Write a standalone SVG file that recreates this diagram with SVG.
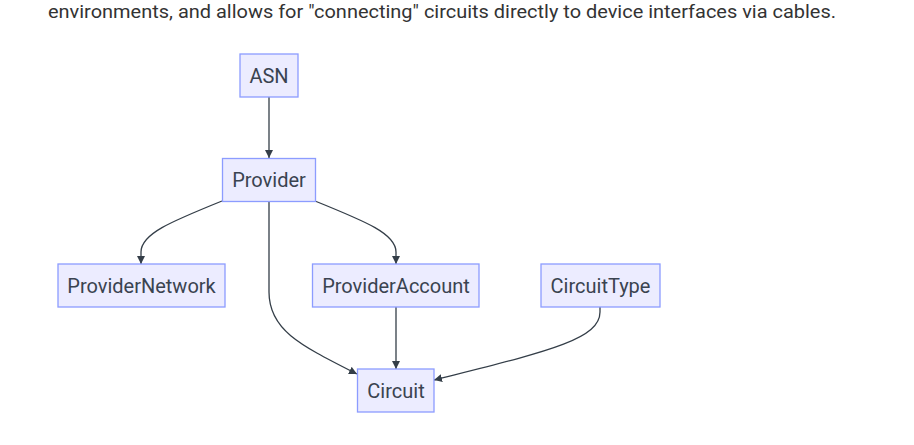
<svg xmlns="http://www.w3.org/2000/svg" width="914" height="445" viewBox="0 0 914 445">
<defs>
<style>
.node rect{fill:#ECECFF;stroke:#8C9CFF;stroke-width:1.3}
.node text{font-family:Roboto,"Liberation Sans",sans-serif;font-size:20px;fill:#3a4350;text-anchor:middle}
.edge{fill:none;stroke:#343e48;stroke-width:1.3}
.intro{font-family:Roboto,"Liberation Sans",sans-serif;font-size:19px;fill:#333}
</style>
<marker id="arr" viewBox="0 0 10 10" refX="10" refY="5" markerWidth="8" markerHeight="8" markerUnits="userSpaceOnUse" orient="auto">
<path d="M0,0 L10,5 L0,10 z" fill="#343e48"/>
</marker>
</defs>
<rect width="914" height="445" fill="#fff"/>
<text class="intro" x="48" y="18" textLength="788" lengthAdjust="spacingAndGlyphs">environments, and allows for "connecting" circuits directly to device interfaces via cables.</text>
<g id="connectors">
<path class="edge" d="M269,97 L269,158" marker-end="url(#arr)"/>
<path class="edge" d="M222,201 C170,222 141,234 141,252 L141,264" marker-end="url(#arr)"/>
<path class="edge" d="M315,201 C367,222 396,234 396,252 L396,264" marker-end="url(#arr)"/>
<path class="edge" d="M269,202 L269,292 C269,330 300,345 357,374" marker-end="url(#arr)"/>
<path class="edge" d="M396,307 L396,369" marker-end="url(#arr)"/>
<path class="edge" d="M600,307 L600,312 C600,340 545,352 434,380" marker-end="url(#arr)"/>
</g>
<g id="ASN" class="node"><rect x="240" y="54" width="58" height="43"/><text x="269" y="82.5">ASN</text></g>
<g id="Provider" class="node"><rect x="222.5" y="158.5" width="93" height="43"/><text x="269" y="187">Provider</text></g>
<g id="ProviderNetwork" class="node"><rect x="58" y="264" width="167" height="43"/><text x="141.5" y="293">ProviderNetwork</text></g>
<g id="ProviderAccount" class="node"><rect x="312.5" y="264" width="166.5" height="43"/><text x="396" y="293">ProviderAccount</text></g>
<g id="CircuitType" class="node"><rect x="541" y="264" width="119" height="43"/><text x="600.5" y="293">CircuitType</text></g>
<g id="Circuit" class="node"><rect x="357.5" y="369" width="76.5" height="43"/><text x="396" y="398">Circuit</text></g>
</svg>
